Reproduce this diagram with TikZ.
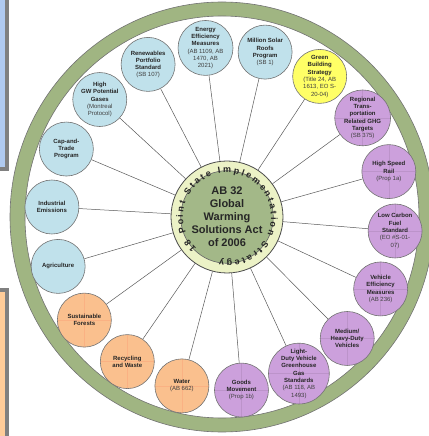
\documentclass[tikz,border=0pt]{standalone}
\usepackage{fontspec}
\setmainfont{Liberation Sans}
\usepackage{tikz}
\usetikzlibrary{decorations.text}

\definecolor{satblue}{RGB}{192,225,235}
\definecolor{satyellow}{RGB}{255,255,102}
\definecolor{satpurple}{RGB}{204,160,220}
\definecolor{satorange}{RGB}{250,192,142}
\definecolor{ringgreen}{RGB}{160,181,130}
\definecolor{hubgreen}{RGB}{163,184,136}
\definecolor{bandyellow}{RGB}{236,242,198}
\definecolor{boxblue}{RGB}{176,202,240}
\definecolor{boxorange}{RGB}{255,204,153}
\definecolor{boxframe}{RGB}{128,128,128}

\newcommand{\pn}[1]{{\mdseries\color{black!75}#1}}

\begin{document}
\begin{tikzpicture}[x=1pt, y=1pt,
  sat/.style={circle, draw=black!55, line width=0.6pt, minimum size=54pt,
    inner sep=0pt, align=center, font=\fontsize{6}{7.3}\selectfont\bfseries,
    text=black!85},
  crossed/.style={path picture={\draw[#1, line width=0.4pt]
    (path picture bounding box.north) -- (path picture bounding box.south)
    (path picture bounding box.west) -- (path picture bounding box.east);}},
  bluesat/.style={sat, fill=satblue},
  yellowsat/.style={sat, fill=satyellow},
  purplesat/.style={sat, fill=satpurple, crossed=satpurple!92!black},
  orangesat/.style={sat, fill=satorange, crossed=satorange!92!red},
  spoke/.style={draw=black!65, line width=0.5pt}
]
\useasboundingbox (-227,-219) rectangle (201,217);

% side boxes, cut by the page edge
\fill[boxframe] (-237,227) rectangle (-218.3,46.3);
\fill[boxblue] (-237,227) rectangle (-221.7,50.3);
\fill[boxframe] (-237,-71.3) rectangle (-218,-229);
\fill[boxorange] (-237,-74.5) rectangle (-222,-229);

% outer ring
\draw[draw=black!55, line width=0.6pt, fill=ringgreen, even odd rule]
  (-5,0) ellipse[x radius=212pt, y radius=215pt]
  (-5,0) ellipse[x radius=197pt, y radius=201pt];

% hub
\node[circle, draw=black!70, line width=0.8pt, fill=bandyellow,
  minimum size=112pt] (hub) at (0,0) {};
\node[circle, draw=black!60, line width=0.6pt, fill=hubgreen,
  minimum size=84pt, inner sep=0pt, align=center,
  font=\fontsize{11}{13}\selectfont\bfseries, text=black!85] (core) at (0,0)
  {AB 32\\Global\\Warming\\Solutions Act\\of 2006};
\path[decorate, decoration={text along path, text align={fit to path},
  text color=black!85,
  text={|\fontsize{9}{10}\selectfont\bfseries|18 Point State Implementation Strategy}}]
  (226:44) arc[start angle=226, end angle=-100, radius=44pt];

% the 18 points
\begin{scope}[shift={(-3.5,-2)}]
\node[bluesat] (energy) at (96:172)
  {Energy\\Efficiency\\Measures\\\pn{(AB 1109, AB}\\\pn{1470, AB}\\\pn{2021)}};
\node[bluesat] (solar) at (76:172) {Million Solar\\Roofs\\Program\\\pn{(SB 1)}};
\node[yellowsat] (green) at (56:172)
  {Green\\Building\\Strategy\\\pn{(Title 24, AB}\\\pn{1613, EO S-}\\\pn{20-04)}};
\node[purplesat] (regional) at (36:172)
  {Regional\\Trans-\\portation\\Related GHG\\Targets\\\pn{(SB 375)}};
\node[purplesat] (rail) at (16:172) {High Speed\\Rail\\\pn{(Prop 1a)}};
\node[purplesat] (fuel) at (-4:172)
  {Low Carbon\\Fuel\\Standard\\\pn{(EO \#S-01-}\\\pn{07)}};
\node[purplesat] (vehicle) at (-24:172) {Vehicle\\Efficiency\\Measures\\\pn{(AB 236)}};
\node[purplesat] (heavy) at (-44:172) {Medium/\\Heavy-Duty\\Vehicles};
\node[purplesat] (light) at (-64:172)
  {Light-\\Duty Vehicle\\Greenhouse\\Gas\\Standards\\\pn{(AB 118, AB}\\\pn{1493)}};
\node[purplesat] (goods) at (-84:172) {Goods\\Movement\\\pn{(Prop 1b)}};
\node[orangesat] (water) at (-104:172) {Water\\\pn{(AB 662)}};
\node[orangesat] (recycle) at (-124:172) {Recycling\\and Waste};
\node[orangesat] (forests) at (-144:172) {Sustainable\\Forests};
\node[bluesat] (agri) at (-164:172) {Agriculture};
\node[bluesat] (industry) at (176:172) {Industrial\\Emissions};
\node[bluesat] (captrade) at (156:172) {Cap-and-\\Trade\\Program};
\node[bluesat] (gwgas) at (136:172)
  {High\\GW Potential\\Gases\\\pn{(Montreal}\\\pn{Protocol)}};
\node[bluesat] (rps) at (116:172) {Renewables\\Portfolio\\Standard\\\pn{(SB 107)}};
\end{scope}

\foreach \n in {energy, solar, green, regional, rail, fuel, vehicle, heavy, light,
  goods, water, recycle, forests, agri, industry, captrade, gwgas, rps}
  \draw[spoke] (hub) -- (\n);
\end{tikzpicture}
\end{document}
